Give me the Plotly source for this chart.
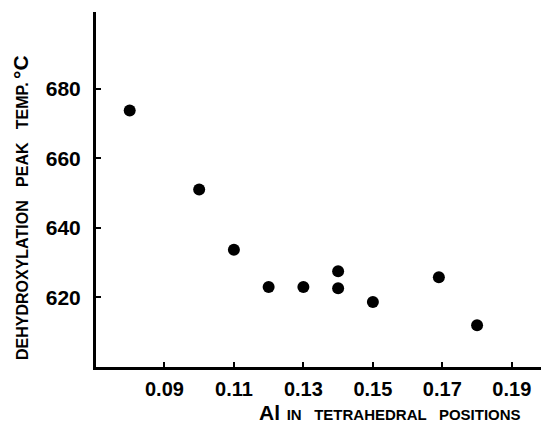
import plotly.graph_objects as go

al_tetrahedral = [0.080, 0.100, 0.110, 0.120, 0.130, 0.140, 0.140, 0.150, 0.169, 0.180]
peak_temp = [673.7, 651.0, 633.7, 623.0, 623.0, 627.5, 622.6, 618.7, 625.8, 612.0]

x_ticks = [0.09, 0.11, 0.13, 0.15, 0.17, 0.19]
x_tick_labels = ["0.09", "0.11", "0.13", "0.15", "0.17", "0.19"]
y_ticks = [620, 640, 660, 680]
y_tick_labels = ["620", "640", "660", "680"]

font_family = "Liberation Sans, Arial, sans-serif"

fig = go.Figure(go.Scatter(
    x=al_tetrahedral, y=peak_temp, mode="markers",
    marker=dict(color="black", size=12, line=dict(width=0)),
    showlegend=False,
))

fig.update_layout(
    width=542, height=425,
    margin=dict(l=96, r=1, t=12, b=58, autoexpand=False),
    paper_bgcolor="white", plot_bgcolor="white",
    font=dict(family=font_family, color="black"),
)

fig.update_xaxes(
    range=[0.0703, 0.1984], automargin=False,
    tickvals=x_ticks, ticktext=x_tick_labels,
    ticks="inside", ticklen=5, tickwidth=2, tickcolor="black",
    showline=True, linewidth=3, linecolor="black",
    showgrid=False, zeroline=False,
    tickfont=dict(size=20, weight="bold", family=font_family),
    ticklabelstandoff=2,
)
fig.update_yaxes(
    range=[600, 702], automargin=False,
    tickvals=y_ticks, ticktext=y_tick_labels,
    ticks="inside", ticklen=5, tickwidth=2, tickcolor="black",
    showline=True, linewidth=3, linecolor="black",
    showgrid=False, zeroline=False,
    tickfont=dict(size=21, weight="bold", family=font_family),
    ticklabelstandoff=8,
)

fig.add_annotation(
    x=390, y=412, showarrow=False,
    text="<span style='font-size:21px'>Al</span>  <span style='font-size:15px'>IN   TETRAHEDRAL   POSITIONS</span>",
    font=dict(family=font_family, weight="bold", color="black"),
    xanchor="center", yanchor="middle",
)
fig.add_annotation(
    x=21, y=208, showarrow=False,
    text="<span style='font-size:16px'>DEHYDROXYLATION   PEAK   TEMP.</span> <span style='font-size:21px'>°C</span>",
    font=dict(family=font_family, weight="bold", color="black"),
    textangle=-90, xanchor="center", yanchor="middle",
)

# convert pixel positions for annotations into paper coordinates
plot_l, plot_r = 96, 542 - 1
plot_t, plot_b = 12, 425 - 58
for ann in fig.layout.annotations:
    px, py = ann.x, ann.y
    ann.x = (px - plot_l) / (plot_r - plot_l)
    ann.y = (plot_b - py) / (plot_b - plot_t)
    ann.xref = "paper"
    ann.yref = "paper"

fig.write_html(
    "out.html",
    config={"displayModeBar": False},
    post_script="document.body.style.margin='0';document.body.style.overflow='hidden';",
)
